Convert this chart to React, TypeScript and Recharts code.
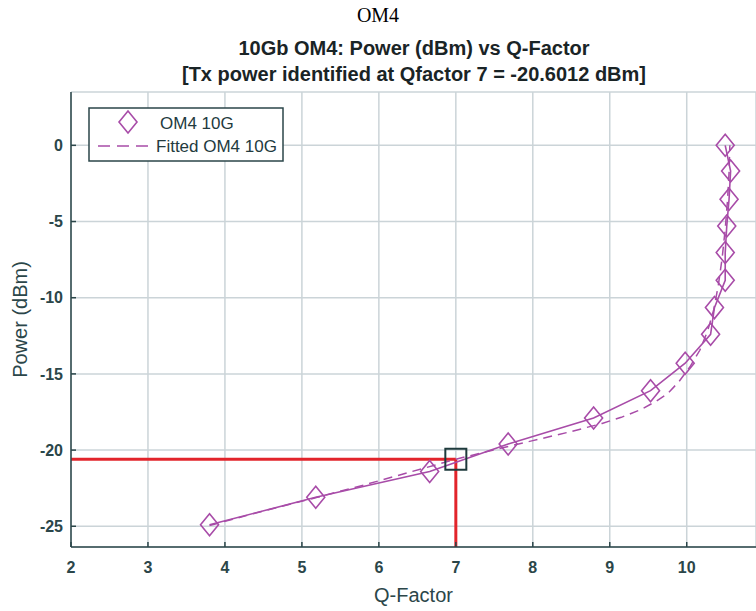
import { ComposedChart, Scatter, Line, XAxis, YAxis, CartesianGrid, ReferenceLine, ReferenceDot } from 'recharts';

const measuredQ = [3.8, 5.18, 6.66, 7.68, 8.79, 9.53, 9.98, 10.31, 10.36, 10.5, 10.5, 10.52, 10.55, 10.57, 10.5];
const measuredPower = [-24.9, -23.1, -21.4, -19.6, -17.9, -16.1, -14.3, -12.4, -10.65, -8.86, -7.04, -5.3, -3.54, -1.69, 0];

const fittedQ = [3.8, 4.5, 5.2, 5.8, 6.4, 7.0, 7.5, 8.0, 8.5, 8.9, 9.15, 9.4, 9.6, 9.75, 9.9, 10.04, 10.17, 10.27, 10.35, 10.41, 10.46, 10.5, 10.53, 10.55, 10.56];
const fittedPower = [-24.95, -24.0, -23.1, -22.3, -21.45, -20.6, -19.98, -19.38, -18.78, -18.25, -17.85, -17.35, -16.8, -16.3, -15.5, -14.55, -13.45, -12.2, -10.8, -9.2, -7.4, -5.5, -3.6, -1.8, 0];

const xTicks = [2, 3, 4, 5, 6, 7, 8, 9, 10];
const yTicks = [-25, -20, -15, -10, -5, 0];

const txQ = 7;
const txPower = -20.6012;

const measured = measuredQ.map((q, i) => ({ q, p: measuredPower[i] }));
const fitted = fittedQ.map((q, i) => ({ q, p: fittedPower[i] }));

const PURPLE = '#a84ca8';
const AXIS = '#2b4649';
const RED = '#e2242b';
const FONT = '"Liberation Sans", Arial, sans-serif';

const Diamond = (props: any) => {
  const { cx, cy } = props;
  if (cx == null || cy == null) return null;
  return (
    <path
      d={`M${cx},${cy - 11} L${cx + 9},${cy} L${cx},${cy + 11} L${cx - 9},${cy} Z`}
      fill="none"
      stroke={PURPLE}
      strokeWidth={1.6}
    />
  );
};

const Square = (props: any) => {
  const { cx, cy } = props;
  return <rect x={cx - 10.5} y={cy - 10.5} width={21} height={21} fill="none" stroke="#1e3a3c" strokeWidth={2} />;
};

const YLabel = (props: any) => {
  const vb = props.viewBox || { x: 0, y: 92, width: 71, height: 455 };
  const x = vb.x + 27;
  const y = vb.y + vb.height / 2;
  return (
    <text x={x} y={y} transform={`rotate(-90 ${x} ${y})`} textAnchor="middle" fill={AXIS} fontSize={20} fontFamily={FONT}>
      Power (dBm)
    </text>
  );
};

export default function App() {
  return (
    <div style={{ position: 'absolute', left: 0, top: 0, width: 756, height: 611, background: '#fff', fontFamily: FONT }}>
      <ComposedChart width={756} height={611} margin={{ top: 92, right: 0, left: 0, bottom: 0 }}>
        <CartesianGrid stroke="#cbd4d8" strokeWidth={1.5} />
        <XAxis
          type="number"
          dataKey="q"
          domain={[2, 10.9]}
          ticks={xTicks}
          allowDataOverflow
          height={64}
          tickSize={-5}
          tickMargin={20}
          axisLine={{ stroke: AXIS, strokeWidth: 1.5 }}
          tickLine={{ stroke: AXIS, strokeWidth: 1.5 }}
          tick={{ fill: AXIS, fontSize: 16, fontWeight: 700, fontFamily: FONT }}
          label={{ value: 'Q-Factor', position: 'insideBottom', offset: 9, fill: AXIS, fontSize: 20, fontFamily: FONT }}
        />
        <YAxis
          type="number"
          dataKey="p"
          domain={[-26.36, 3.5]}
          ticks={yTicks}
          allowDataOverflow
          width={71}
          tickSize={-5}
          tickMargin={13}
          axisLine={{ stroke: AXIS, strokeWidth: 1.5 }}
          tickLine={{ stroke: AXIS, strokeWidth: 1.5 }}
          tick={{ fill: AXIS, fontSize: 16, fontWeight: 700, fontFamily: FONT }}
          label={{ content: YLabel }}
        />
        <ReferenceLine segment={[{ x: 2, y: txPower }, { x: txQ, y: txPower }]} stroke={RED} strokeWidth={3} />
        <ReferenceLine segment={[{ x: txQ, y: txPower }, { x: txQ, y: -26.36 }]} stroke={RED} strokeWidth={3} />
        <Line
          data={fitted}
          dataKey="p"
          type="linear"
          stroke={PURPLE}
          strokeWidth={1.5}
          strokeDasharray="9 6"
          dot={false}
          activeDot={false}
          isAnimationActive={false}
        />
        <Scatter
          data={measured}
          dataKey="p"
          shape={Diamond}
          line={{ stroke: PURPLE, strokeWidth: 1.6 }}
          isAnimationActive={false}
        />
        <ReferenceDot x={txQ} y={txPower} shape={Square} />
      </ComposedChart>
      <svg width={756} height={611} style={{ position: 'absolute', left: 0, top: 0, pointerEvents: 'none' }}>
        <text x={378} y={22} textAnchor="middle" fontFamily='"Liberation Serif", "Times New Roman", serif' fontSize={20} fill="#000">
          OM4
        </text>
        <text x={414} y={55} textAnchor="middle" fontFamily={FONT} fontWeight={700} fontSize={20} fill="#1a2426">
          10Gb OM4: Power (dBm) vs Q-Factor
        </text>
        <text x={414} y={81} textAnchor="middle" fontFamily={FONT} fontWeight={700} fontSize={20} fill="#1a2426">
          [Tx power identified at Qfactor 7 = -20.6012 dBm]
        </text>
        <rect x={89} y={108} width={194} height={53} fill="#fff" stroke={AXIS} strokeWidth={1.5} />
        <path d="M128,111 L137,122 L128,133 L119,122 Z" fill="none" stroke={PURPLE} strokeWidth={1.6} />
        <text x={160} y={129} fontFamily={FONT} fontSize={17} fill="#233a3e">
          OM4 10G
        </text>
        <line x1={98} y1={146} x2={153} y2={146} stroke={PURPLE} strokeWidth={1.6} strokeDasharray="12 7" />
        <text x={156} y={152} fontFamily={FONT} fontSize={17} fill="#233a3e">
          Fitted OM4 10G
        </text>
      </svg>
    </div>
  );
}
